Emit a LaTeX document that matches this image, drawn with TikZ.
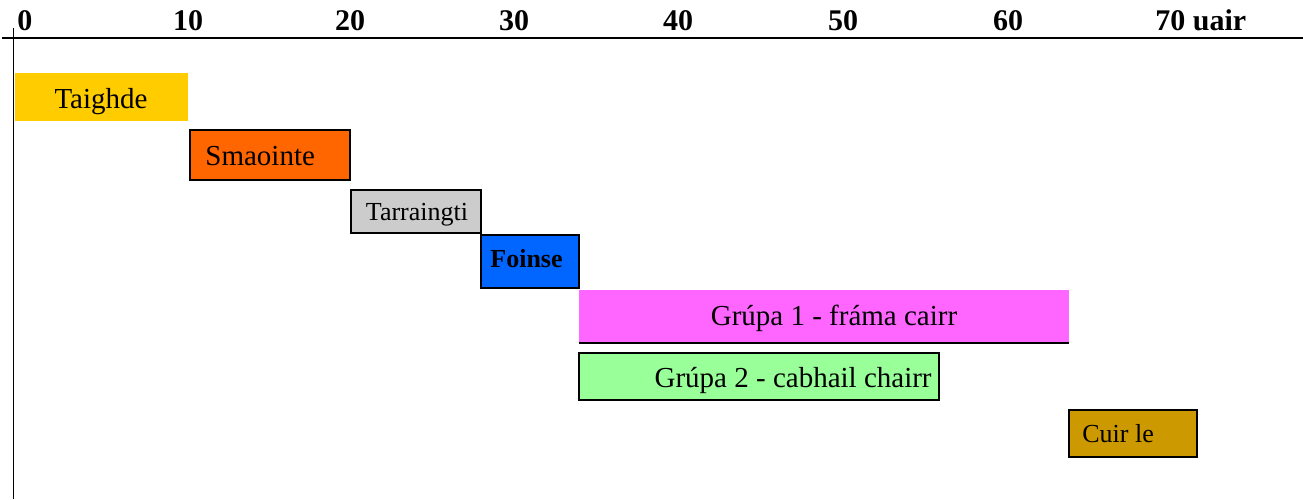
\documentclass[tikz,border=0pt]{standalone}
\usepackage{fontspec}
\setmainfont{Liberation Serif}
\definecolor{taighdeyellow}{HTML}{FFCC00}
\definecolor{smaointeorange}{HTML}{FF6600}
\definecolor{tarraingtigrey}{HTML}{CCCCCC}
\definecolor{foinseblue}{HTML}{0066FF}
\definecolor{grupapink}{HTML}{FF66FF}
\definecolor{grupagreen}{HTML}{99FF99}
\definecolor{cuirlegold}{HTML}{CC9900}
\begin{document}
\begin{tikzpicture}[x=0.5pt, y=-0.5pt, every node/.style={inner sep=0pt, font=\fontsize{14.5}{17}\selectfont},
		bar/.style={draw=black, line width=0.75pt},
		hour/.style={anchor=base, font=\fontsize{15}{18}\selectfont\bfseries}]
		\useasboundingbox (0,0) rectangle (1303,499);

		% Axes
		\draw[line width=0.75pt] (2,38) -- (1303,38);
		\draw[line width=0.75pt] (13.5,28) -- (13.5,499);

		% Hour labels
		\node[hour, anchor=base west] (h0) at (17,30) {0};
		\foreach \h/\px in {10/188, 20/350, 30/514, 40/678, 50/843, 60/1008}
			\node[hour] (h\h) at (\px,30) {\h};
		\node[hour, anchor=base west] (h70) at (1155,30) {70 uair};

		% Row 1
		\fill[taighdeyellow] (15,73) rectangle (188,121);
		\node[anchor=base] (taighde) at (101,108) {Taighde};

		% Row 2
		\draw[bar, fill=smaointeorange] (190,130) rectangle (350,180);
		\node[anchor=base west] (smaointe) at (205,165) {Smaointe};

		% Row 3
		\draw[bar, fill=tarraingtigrey] (351,190) rectangle (481,233);
		\node[anchor=base, font=\fontsize{13}{15}\selectfont] (tarraingti) at (417,220) {Tarraingti};

		% Row 4
		\draw[bar, fill=foinseblue] (481,235) rectangle (579,288);
		\node[anchor=base west, font=\fontsize{13}{15}\selectfont\bfseries] (foinse) at (490,267) {Foinse};

		% Row 5
		\fill[grupapink] (579,290) rectangle (1069,343);
		\draw[line width=0.75pt] (579,343) -- (1069,343);
		\node[anchor=base] (grupa1) at (834,325) {Grúpa 1 - fráma cairr};

		% Row 6
		\draw[bar, fill=grupagreen] (579,353) rectangle (939,400);
		\node[anchor=base east] (grupa2) at (932,387) {Grúpa 2 - cabhail chairr};

		% Row 7
		\draw[bar, fill=cuirlegold] (1069,410) rectangle (1197,457);
		\node[anchor=base west, font=\fontsize{13}{15}\selectfont] (cuirle) at (1082,442) {Cuir le};
	\end{tikzpicture}
\end{document}
